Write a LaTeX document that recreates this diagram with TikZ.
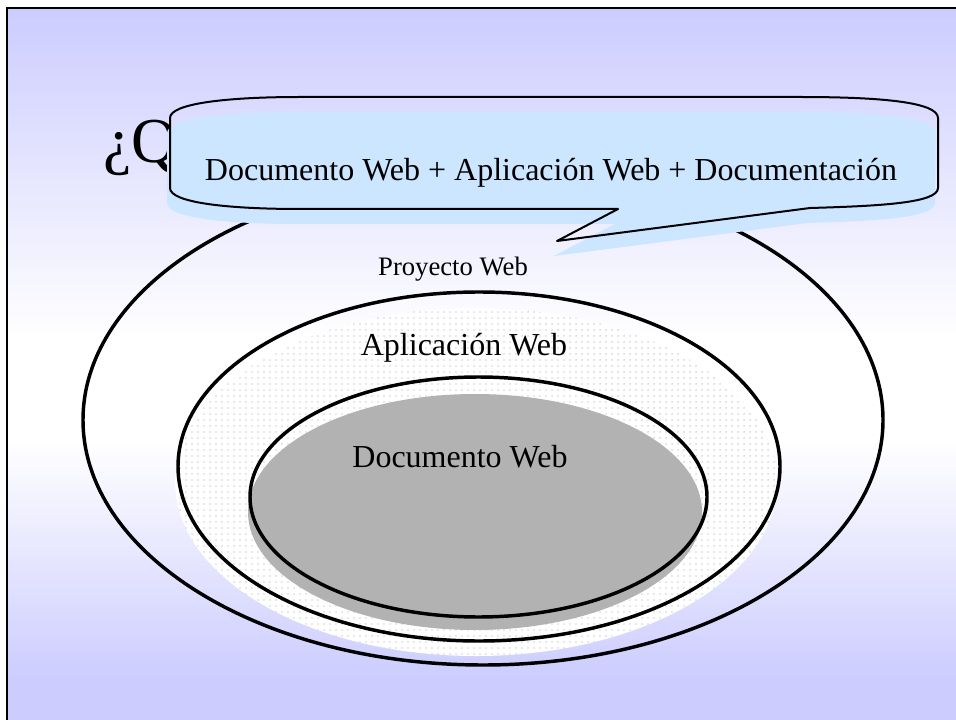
\documentclass[tikz,border=0pt]{standalone}
\usepackage{fontspec}
\setmainfont{Liberation Serif}
\usetikzlibrary{patterns.meta}

\definecolor{lavender}{RGB}{204,204,255}
\definecolor{calloutblue}{RGB}{204,230,255}
\definecolor{docgray}{RGB}{178,178,178}
\definecolor{dotgray}{RGB}{160,160,160}

% outline of the speech bubble, in pixel units
\def\bubblepath{(170,118) -- (170,188)
  .. controls (170,203) and (230,209) .. (300,209) -- (618,209)
  -- (557,241) -- (810,208)
  .. controls (880,206) and (938,203) .. (938,188) -- (938,118)
  .. controls (938,102) and (880,97) .. (800,97) -- (300,97)
  .. controls (230,97) and (170,103) .. (170,118) -- cycle}

\begin{document}
\begin{tikzpicture}[x=0.75pt,y=-0.75pt,
  ring/.style={line width=2.6pt},
  txt/.style={inner sep=0pt, anchor=base, font=\fontsize{24}{28}\selectfont},
  smalltxt/.style={inner sep=0pt, anchor=base, font=\fontsize{20}{24}\selectfont},
  titletxt/.style={inner sep=0pt, anchor=base west, font=\fontsize{48}{56}\selectfont},
  shadowshift/.style={shift={(-3,15)}}]
\useasboundingbox (0,0) rectangle (956,720);
\clip (0,0) rectangle (956,720);

% slide background: lavender fading to white in the middle and back
\fill[white] (0,0) rectangle (956,720);
\shade[top color=lavender, bottom color=white] (7,8) rectangle (960,340);
\fill[white] (7,340) rectangle (960,440);
\shade[top color=white, bottom color=lavender] (7,440) rectangle (960,680);
\fill[lavender] (7,680) rectangle (960,725);
\draw[line width=1.5pt] (7,8) rectangle (960,725);

% title, mostly covered by the bubble
\node[titletxt] (title) at (103,163) {¿Q};

% Proyecto Web
\draw[ring] (483,420) ellipse [x radius=400, y radius=245];

% Aplicacion Web: dotted fill, offset like a shadow
\fill[white] (476,482) ellipse [x radius=301, y radius=174];
\fill[pattern={Dots[distance=4.5pt, radius=0.55pt]}, pattern color=dotgray]
  (476,482) ellipse [x radius=301, y radius=174];
\draw[ring] (479,466.5) ellipse [x radius=301, y radius=174.5];

% Documento Web: gray fill, offset like a shadow
\fill[docgray] (475,512) ellipse [x radius=227, y radius=118];
\draw[ring] (478.5,497) ellipse [x radius=228.5, y radius=120];

\node[smalltxt] (proyecto) at (453,276) {Proyecto Web};
\node[txt] (aplicacion) at (464,355) {Aplicación Web};
\node[txt] (documento) at (460,467) {Documento Web};

% speech bubble
\fill[calloutblue, shadowshift] \bubblepath;
\draw[line width=1.5pt, line join=round] \bubblepath;
\node[txt] (bubble) at (551,181) {Documento Web + Aplicación Web + Documentación};
\end{tikzpicture}
\end{document}
